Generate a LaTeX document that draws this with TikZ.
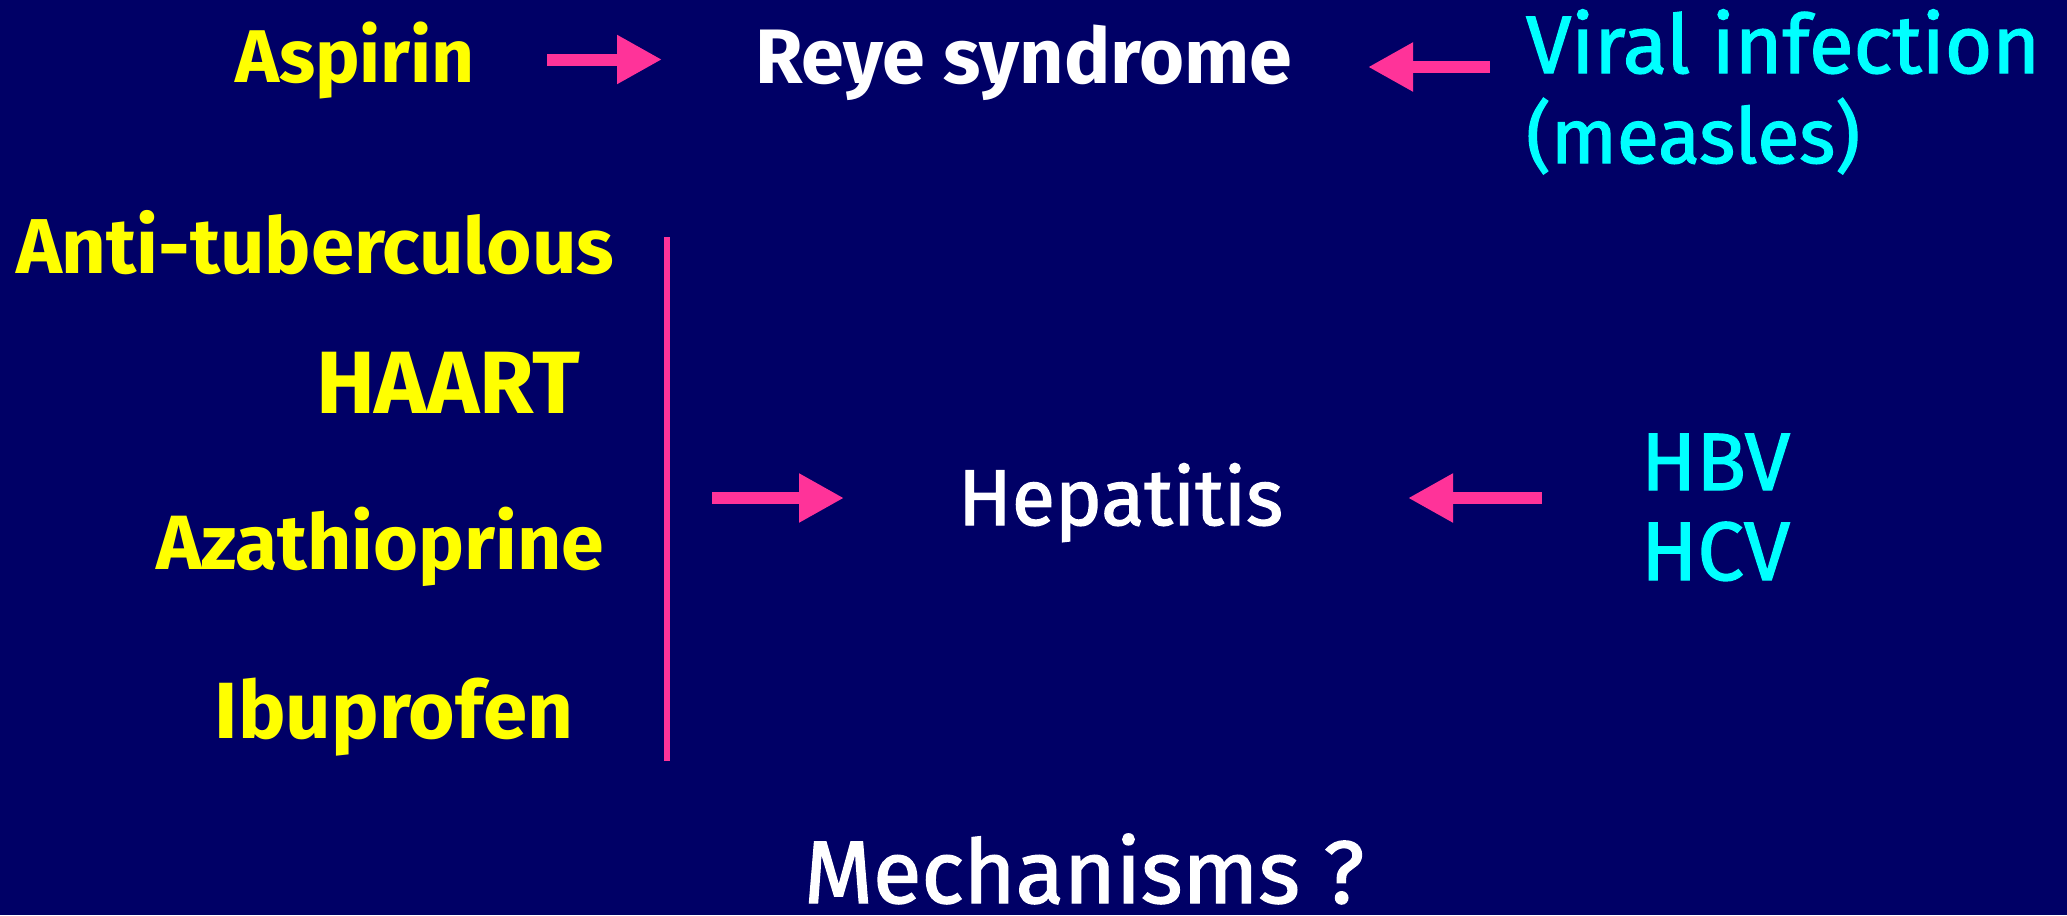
\documentclass[tikz,border=0pt]{standalone}
\usepackage{fontspec}
\setmainfont{Fira Sans}
\newfontfamily\medfont[FakeBold=1.6]{Fira Sans}
\usetikzlibrary{arrows.meta}
\definecolor{bgnavy}{RGB}{0,0,102}
\definecolor{pinkc}{RGB}{255,51,153}
\definecolor{yell}{RGB}{255,255,0}
\definecolor{cyanc}{RGB}{0,255,255}
\newcommand{\fitw}[2]{\resizebox{#1}{!}{#2}}
\tikzset{
  lbl/.style={inner sep=0pt, outer sep=0pt, anchor=base west},
  drug/.style={lbl, text=yell, font=\bfseries},
  virus/.style={lbl, text=cyanc, font=\medfont},
  effect/.style={lbl, text=white},
  pinkarrow/.style={draw=pinkc, line width=0.12cm, -{Triangle[length=0.45cm,width=0.46cm]}},
  bar/.style={draw=pinkc, line width=0.055cm}
}
\begin{document}
\begin{tikzpicture}
\useasboundingbox (0,0) rectangle (20.67,-9.15);
\fill[bgnavy] (0,0) rectangle (20.67,-9.15);
% top row
\node[drug] (asp) at (2.35,-0.82) {\fitw{2.40cm}{Aspirin}};
\node[effect, font=\bfseries] (reye) at (7.55,-0.84) {\fitw{5.37cm}{Reye syndrome}};
\node[virus] (viral) at (15.26,-0.73) {\fitw{5.14cm}{Viral infection}};
\node[virus] (measles) at (15.26,-1.63) {\fitw{3.34cm}{(measles)}};
\coordinate (a1s) at (5.47,-0.595);
\coordinate (a1e) at (6.62,-0.595);
\coordinate (a2s) at (14.90,-0.67);
\coordinate (a2e) at (13.68,-0.67);
\draw[pinkarrow] (a1s) -- (a1e);
\draw[pinkarrow] (a2s) -- (a2e);
% drugs list
\node[drug] (antitb) at (0.16,-2.73) {\fitw{5.98cm}{Anti-tuberculous}};
\node[drug] (haart) at (3.16,-4.13) {\fitw{2.64cm}{HAART}};
\node[drug] (aza) at (1.56,-5.69) {\fitw{4.48cm}{Azathioprine}};
\node[drug] (ibu) at (2.15,-7.38) {\fitw{3.58cm}{Ibuprofen}};
\coordinate (bartop) at (6.67,-2.37);
\coordinate (barbot) at (6.67,-7.61);
\draw[bar] (bartop) -- (barbot);
% hepatitis row
\node[effect, font=\medfont] (hep) at (9.58,-5.25) {\fitw{3.25cm}{Hepatitis}};
\node[virus] (hbv) at (16.41,-4.90) {\fitw{1.49cm}{HBV}};
\node[virus] (hcv) at (16.41,-5.80) {\fitw{1.49cm}{HCV}};
\coordinate (a3s) at (7.12,-4.98);
\coordinate (a3e) at (8.44,-4.98);
\coordinate (a4s) at (15.42,-4.98);
\coordinate (a4e) at (14.08,-4.98);
\draw[pinkarrow] (a3s) -- (a3e);
\draw[pinkarrow] (a4s) -- (a4e);
% bottom question
\node[effect, font=\medfont] (mech) at (8.04,-9.03) {\fitw{5.60cm}{Mechanisms ?}};
\end{tikzpicture}
\end{document}
